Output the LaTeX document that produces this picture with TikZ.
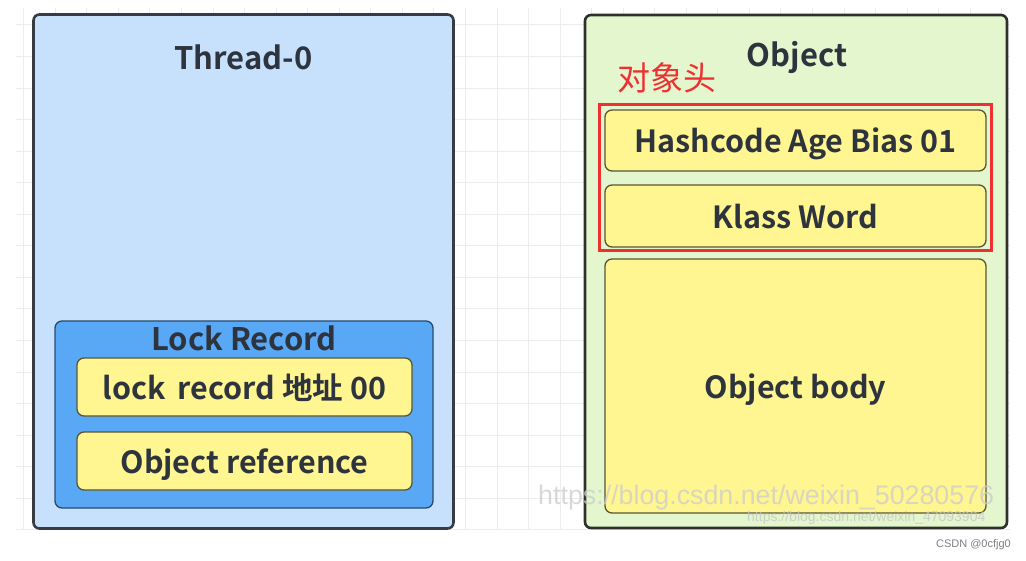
\documentclass[tikz,border=0pt]{standalone}
\usepackage{fontspec}
\setmainfont{Noto Sans CJK SC}[BoldFont={Noto Sans CJK SC Bold}]
\newfontfamily\wmfont{Liberation Sans}
\usetikzlibrary{positioning}
\definecolor{threadblue}{RGB}{199,225,252}
\definecolor{lockblue}{RGB}{88,168,246}
\definecolor{fieldyellow}{RGB}{255,245,145}
\definecolor{objgreen}{RGB}{227,246,206}
\definecolor{framegray}{RGB}{55,60,68}
\definecolor{labelgray}{RGB}{45,52,62}
\definecolor{headred}{RGB}{238,48,48}
\definecolor{gridgray}{RGB}{236,236,236}
\tikzset{
  frame/.style={draw=framegray, line width=2.6pt, rounded corners=6pt, inner sep=0pt},
  field/.style={draw=black!65!fieldyellow, fill=fieldyellow, line width=1.3pt, rounded corners=7pt,
                minimum width=335pt, minimum height=58pt, inner sep=0pt, text depth=0pt,
                font=\fontsize{30.5}{33}\selectfont\bfseries, text=labelgray},
  title/.style={font=\fontsize{31}{34}\selectfont\bfseries, text=labelgray, inner sep=0pt}
}

\begin{document}
\begin{tikzpicture}[x=1pt,y=-1pt]
  \useasboundingbox (0,0) rectangle (1026,561);
  \fill[white] (0,0) rectangle (1026,561); % page
  % grid of the drawing sheet
  \foreach \k in {-15,...,16}
    \draw[gridgray, line width=1pt] ({497+31.55*\k},8) -- ({497+31.55*\k},530);
  \foreach \k in {0,...,16}
    \draw[gridgray, line width=1pt] (16,{25+31.55*\k}) -- (1010,{25+31.55*\k});

  % thread side
  \node[frame, fill=threadblue, minimum width=420pt, minimum height=514pt] (thread) at (243.5,271.5) {};
  \node[title] (threadname) at (243.5,57) {Thread-0};
  \node[draw=black!55!lockblue, fill=lockblue, line width=1.3pt, rounded corners=7pt,
        minimum width=378pt, minimum height=187pt] (lockrec) at (244,414.5) {};
  \node[title] (lockname) at (244,338) {Lock Record};
  \node[field] (lockaddr) at (244.5,387) {lock\, record 地址 00};
  \node[field] (objref) at (244.5,461) {Object reference};

  % object side
  \node[frame, draw=black!80!objgreen, fill=objgreen, minimum width=422pt, minimum height=513pt] (object) at (796,271.5) {};
  \node[title] (objname) at (797,57) {Object};
  \node[font=\fontsize{33}{36}\selectfont, text=headred, inner sep=0pt] (headlabel) at (667,78) {对象头};
  \node[field, minimum width=381pt, minimum height=61pt] (hashword) at (795.5,140.5) {Hashcode Age Bias 01};
  \node[field, minimum width=381pt, minimum height=62pt] (klassword) at (795.5,216) {Klass Word};
  \node[field, minimum width=381pt, minimum height=254pt] (objbody) at (795.5,386) {Object body};
  \node[draw=headred, line width=3pt, minimum width=392pt, minimum height=146pt] (header) at (795,178) {}; % header frame

  % watermarks
  \node[font=\wmfont\fontsize{26.8}{30}\selectfont, text=gray!40, opacity=0.75, anchor=west, inner sep=0pt] (wmone) at (538,498) {https://blog.csdn.net/weixin\_50280576};
  \node[font=\wmfont\fontsize{14}{16}\selectfont, text=gray!45, opacity=0.8, anchor=west, inner sep=0pt] (wmtwo) at (747,518) {https://blog.csdn.net/weixin\_47093904};
  \node[font=\wmfont\fontsize{11}{13}\selectfont, text=gray, anchor=east, inner sep=0pt] (credit) at (1011,545) {CSDN @0cfjg0};
\end{tikzpicture}
\end{document}
